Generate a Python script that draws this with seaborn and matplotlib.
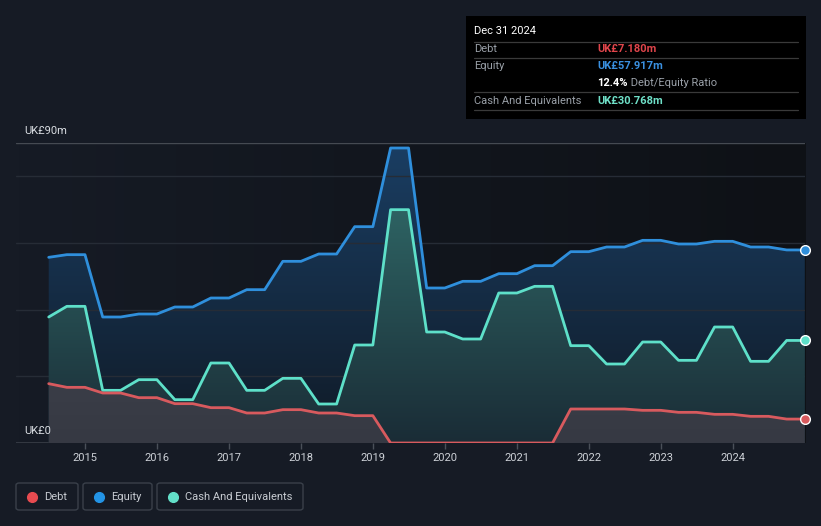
import numpy as np
import pandas as pd
import matplotlib
matplotlib.use("Agg")
import matplotlib.pyplot as plt
import matplotlib.dates as mdates
from matplotlib.colors import LinearSegmentedColormap
from matplotlib.patches import FancyBboxPatch, Rectangle
from matplotlib.lines import Line2D
from matplotlib.text import Annotation
import seaborn as sns

# quarterly balance sheet values, UK£m
quarters = pd.date_range("2014-06-30", "2024-12-31", freq="QE")
debt = [17.8, 16.7, 16.7,
        15.0, 15.0, 13.6, 13.6,
        11.8, 11.8, 10.6, 10.6,
        9.0, 9.0, 10.0, 10.0,
        9.0, 9.0, 8.2, 8.2,
        0.0, 0.0, 0.0, 0.0,
        0.0, 0.0, 0.0, 0.0,
        0.0, 0.0, 10.2, 10.2,
        10.2, 10.2, 9.8, 9.8,
        9.2, 9.2, 8.6, 8.6,
        8.0, 8.0, 7.18, 7.18]
equity = [55.7, 56.5, 56.5,
          37.8, 37.8, 38.7, 38.7,
          40.8, 40.8, 43.5, 43.5,
          46.0, 46.0, 54.5, 54.5,
          56.7, 56.7, 64.9, 64.9,
          88.5, 88.5, 46.5, 46.5,
          48.5, 48.5, 50.8, 50.8,
          53.2, 53.2, 57.4, 57.4,
          58.8, 58.8, 60.8, 60.8,
          59.7, 59.7, 60.5, 60.5,
          58.8, 58.8, 57.917, 57.917]
cash = [37.8, 41.0, 41.0,
        15.8, 15.8, 19.0, 19.0,
        13.0, 13.0, 24.0, 24.0,
        15.8, 15.8, 19.4, 19.4,
        11.7, 11.7, 29.4, 29.4,
        70.0, 70.0, 33.3, 33.3,
        31.2, 31.2, 45.0, 45.0,
        47.0, 47.0, 29.2, 29.2,
        23.7, 23.7, 30.3, 30.3,
        24.8, 24.8, 34.8, 34.8,
        24.5, 24.5, 30.768, 30.768]
year_ticks = [2015, 2016, 2017, 2018, 2019, 2020, 2021, 2022, 2023, 2024]

df = pd.DataFrame({"date": quarters, "Debt": debt, "Equity": equity, "Cash": cash})

BG = "#161b25"
sns.set_theme(style="dark")
plt.rcParams["font.family"] = ["Roboto", "DejaVu Sans"]

W, H = 821, 526
fig = plt.figure(figsize=(W / 100, H / 100), dpi=100, facecolor=BG)


def fx(px):
    return px / W


def fy(py):
    return 1 - py / H


ax = fig.add_axes([fx(16), fy(443), fx(805) - fx(16), fy(143) - fy(443)])
ax.set_facecolor(BG)
x0 = mdates.date2num(pd.Timestamp("2014-01-15"))
x1 = mdates.date2num(pd.Timestamp("2025-01-01"))

# darker background towards the right
bg_cmap = LinearSegmentedColormap.from_list("bg", ["#161b25", "#0e1116"])
ax.imshow(np.linspace(0, 1, 256).reshape(1, -1), cmap=bg_cmap, aspect="auto",
          extent=[0, 1, 0, 1], transform=ax.transAxes, zorder=0)

xnum = mdates.date2num(df["date"])


def grad_fill(y, top, bottom, z):
    poly = ax.fill_between(xnum, 0, y, color="none", lw=0, zorder=z)
    cmap = LinearSegmentedColormap.from_list("g", [bottom, top])
    img = ax.imshow(np.linspace(0, 1, 256).reshape(-1, 1), cmap=cmap, aspect="auto",
                    origin="lower", extent=[x0, x1, 0, 90], zorder=z)
    img.set_clip_path(poly.get_paths()[0], transform=ax.transData)


grad_fill(df["Equity"], "#1a3e63", "#101a26", 1)
grad_fill(df["Cash"], "#33726f", "#1a2c36", 2)
grad_fill(df["Debt"], "#4c4f59", "#363943", 3)

for yv in [20, 40, 60, 80]:
    ax.axhline(yv, color="#262c36", lw=1, zorder=1.5)
ax.axhline(90, color="#454a52", lw=1, zorder=1.5)
ax.axhline(0, color="#3a3f48", lw=1.2, zorder=1.5)

cols = {"Equity": "#2f8fdc", "Cash": "#5ee0c9", "Debt": "#d85a5e"}
for name, z in [("Equity", 5), ("Cash", 6), ("Debt", 7)]:
    sns.lineplot(data=df, x="date", y=name, ax=ax, color=cols[name], lw=2.0,
                 zorder=z, solid_joinstyle="round", solid_capstyle="round")
    ax.plot(df["date"].iloc[-1], df[name].iloc[-1], "o", ms=7, mfc=cols[name],
            mec="white", mew=1.0, zorder=10, clip_on=False)

ax.set_xlim(mdates.num2date(x0), mdates.num2date(x1))
ax.set_ylim(0, 90)
ax.set_xlabel("")
ax.set_ylabel("")
ax.set_yticks([])
ax.set_xticks([pd.Timestamp(f"{y}-01-01") for y in year_ticks])
ax.set_xticklabels([str(y) for y in year_ticks], color="#cdd1d7", fontsize=8)
ax.tick_params(axis="x", length=4, width=1, color="#4a5059", pad=3, bottom=True)
for s in ax.spines.values():
    s.set_visible(False)
ax.grid(False)

fig.text(fx(24), fy(131), "UK£90m", color="#d9dde2", fontsize=8, va="center", ha="left")
fig.text(fx(24), fy(431), "UK£0", color="#d9dde2", fontsize=8, va="center", ha="left")

# tooltip box
fig.patches.append(Rectangle((fx(466), fy(119)), fx(806) - fx(466), fy(16) - fy(119),
                             transform=fig.transFigure, facecolor="#000000", edgecolor="none"))
for sy in [41.7, 58.3, 92.3, 110]:
    fig.add_artist(Line2D([fx(474), fx(798)], [fy(sy), fy(sy)], color="#3a3a3a", lw=0.9))
fig.text(fx(474), fy(31.5), "Dec 31 2024", color="white", fontsize=8, va="center")
rows = [("Debt", "UK£7.180m", "#e0454b", 49.5),
        ("Equity", "UK£57.917m", "#3a90e0", 66),
        ("Cash And Equivalents", "UK£30.768m", "#6fe0c8", 100.5)]
for lab, val, c, yy in rows:
    fig.text(fx(474), fy(yy), lab, color="#9aa0a8", fontsize=8, va="center")
    fig.text(fx(597), fy(yy), val, color=c, fontsize=8, va="center", fontweight="bold")
t = fig.text(fx(597), fy(83), "12.4%", color="white", fontsize=8, va="center", fontweight="bold")
fig.add_artist(Annotation(" Debt/Equity Ratio", xy=(1, 0.5), xycoords=t, va="center",
                          ha="left", color="#9aa0a8", fontsize=8, annotation_clip=False))

# legend boxes
legend_items = [("Debt", "#e84b50", 16, 78), ("Equity", "#2394e6", 83, 152),
                ("Cash And Equivalents", "#63e0c9", 157, 303)]
for lab, c, l, r in legend_items:
    fig.patches.append(FancyBboxPatch((fx(l), fy(510)), fx(r) - fx(l), fy(483) - fy(510),
                                      boxstyle="round,pad=0,rounding_size=0.004",
                                      transform=fig.transFigure, facecolor=BG,
                                      edgecolor="#3a404a", lw=1))
    fig.add_artist(Line2D([fx(l + 16)], [fy(496.5)], marker="o", ms=7, color=c, mec=c))
    fig.text(fx(l + 28), fy(496.5), lab, color="#c8ccd2", fontsize=8, va="center")

fig.savefig("out.png", dpi=100, facecolor=BG)
